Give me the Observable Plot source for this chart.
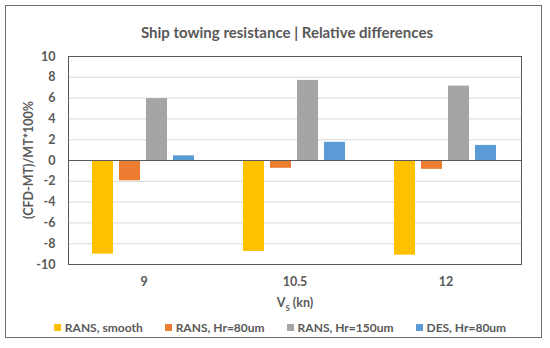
<!DOCTYPE html>
<html>
<head>
<meta charset="utf-8">
<script src="https://cdn.jsdelivr.net/npm/d3@7"></script>
<script src="https://cdn.jsdelivr.net/npm/@observablehq/plot@0.6"></script>
<style>
  html, body { margin: 0; padding: 0; background: #fff; }
  #wrap { position: relative; width: 550px; height: 348px; font-family: Lato, "Open Sans", sans-serif; color: #595959; }
  #border { position: absolute; left: 5px; top: 5px; width: 537px; height: 333px; border: 1px solid #6f6f6f; box-sizing: border-box; }
  #title { position: absolute; left: 0; top: 23px; width: 574px; text-align: center; font-size: 15px; font-weight: bold; }
  #chart { position: absolute; left: 0; top: 0; }
  #ylabel { position: absolute; left: 28px; top: 160px; transform: translate(-50%, -50%) rotate(-90deg); white-space: nowrap; font-size: 12.5px; font-weight: bold; }
  #xlabel { position: absolute; left: 0; top: 295px; width: 590px; text-align: center; font-size: 12.5px; font-weight: bold; }
  #legend { position: absolute; left: 0; top: 320px; width: 560px; display: flex; justify-content: center; gap: 22px; font-size: 12px; font-weight: bold; }
  .item { display: flex; align-items: center; gap: 4px; }
  .sw { width: 7px; height: 7px; display: inline-block; }
</style>
</head>
<body>
<div id="wrap">
  <div id="border"></div>
  <div id="title">Ship towing resistance | Relative differences</div>
  <div id="chart"></div>
  <div id="ylabel">(CFD-MT)/MT*100%</div>
  <div id="xlabel">V<sub style="font-size:8px">S</sub> (kn)</div>
  <div id="legend"></div>
</div>
<script>
const speeds = ["9", "10.5", "12"];
const series = ["RANS, smooth", "RANS, Hr=80um", "RANS, Hr=150um", "DES, Hr=80um"];
const colors = ["#FFC000", "#ED7D31", "#A5A5A5", "#5B9BD5"];
const ransSmooth = [-9.0, -8.75, -9.1];
const rans80 = [-1.95, -0.75, -0.85];
const rans150 = [5.95, 7.7, 7.15];
const des80 = [0.45, 1.75, 1.45];
const yTicks = [-10, -8, -6, -4, -2, 0, 2, 4, 6, 8, 10];

const valuesBySeries = [ransSmooth, rans80, rans150, des80];
const rows = [];
speeds.forEach((s, i) => {
  series.forEach((name, j) => {
    rows.push({speed: s, series: name, value: valuesBySeries[j][i]});
  });
});

const plot = Plot.plot({
  width: 550,
  height: 295,
  marginLeft: 67,
  marginRight: 28,
  marginTop: 56,
  marginBottom: 31,
  style: {fontFamily: "Lato, 'Open Sans', sans-serif", fontSize: "12.5px", fontWeight: "bold", color: "#595959", background: "transparent", overflow: "visible"},
  fx: {domain: speeds, padding: 0, label: null, tickSize: 0, tickPadding: 13},
  x: {domain: series, axis: null, paddingInner: 0.22, paddingOuter: 0.85},
  y: {domain: [-10, 10], ticks: yTicks, tickSize: 0, tickPadding: 13, tickFormat: d => String(d), label: null},
  color: {domain: series, range: colors},
  marks: [
    Plot.ruleY(yTicks, {stroke: "#d9d9d9", strokeWidth: 1, strokeOpacity: 1}),
    Plot.barY(rows, {fx: "speed", x: "series", y: "value", fill: "series"}),
    Plot.ruleY([0], {stroke: "#595959", strokeWidth: 1}),
    Plot.frame({stroke: "#595959", strokeWidth: 1, facet: "super"})
  ]
});
document.getElementById("chart").appendChild(plot);

const legend = document.getElementById("legend");
series.forEach((name, j) => {
  const it = document.createElement("div");
  it.className = "item";
  const sw = document.createElement("span");
  sw.className = "sw";
  sw.style.background = colors[j];
  const t = document.createElement("span");
  t.textContent = name;
  it.appendChild(sw);
  it.appendChild(t);
  legend.appendChild(it);
});
</script>
</body>
</html>
